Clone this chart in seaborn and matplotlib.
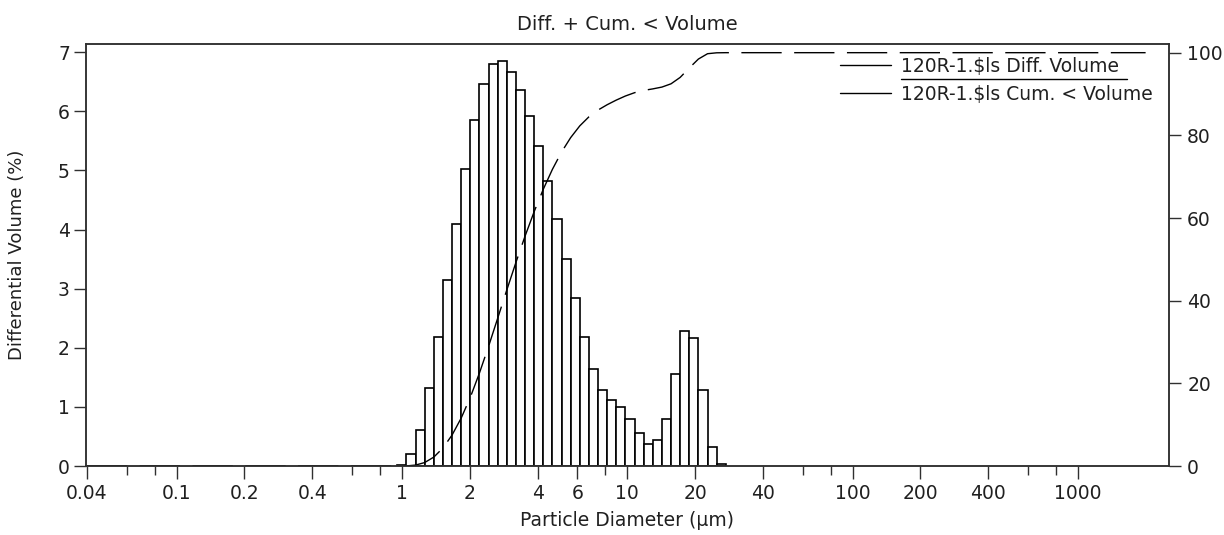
import numpy as np
import pandas as pd
import matplotlib
matplotlib.use("Agg")
import matplotlib.pyplot as plt
import seaborn as sns
from matplotlib.lines import Line2D
from matplotlib.ticker import FixedLocator, FixedFormatter, NullFormatter

# ---- data ----
# channel edges (um) of the size classes carrying volume
bin_edges = [0.953, 1.047, 1.149, 1.261, 1.385, 1.520, 1.669, 1.832, 2.011, 2.207,
             2.423, 2.660, 2.920, 3.206, 3.519, 3.863, 4.240, 4.655, 5.110, 5.610,
             6.158, 6.760, 7.421, 8.147, 8.943, 9.818, 10.78, 11.83, 12.99, 14.26,
             15.65, 17.18, 18.86, 20.70, 22.73, 24.95, 27.39]
# differential volume (%) per channel
diff_volume = [0.02, 0.20, 0.61, 1.32, 2.19, 3.14, 4.10, 5.02, 5.85, 6.46,
               6.81, 6.85, 6.67, 6.36, 5.93, 5.42, 4.82, 4.18, 3.50, 2.84,
               2.19, 1.64, 1.29, 1.12, 0.99, 0.80, 0.55, 0.37, 0.44, 0.79,
               1.55, 2.28, 2.16, 1.29, 0.32, 0.03]
# cumulative < volume (%) at diameters
cum_diameter = [0.04, 0.953, 1.047, 1.149, 1.261, 1.385, 1.520, 1.669, 1.832, 2.011,
                2.207, 2.423, 2.660, 2.920, 3.206, 3.519, 3.863, 4.240, 4.655, 5.110,
                5.610, 6.158, 6.760, 7.421, 8.147, 8.943, 9.818, 10.78, 11.83, 12.99,
                14.26, 15.65, 17.18, 18.86, 20.70, 22.73, 24.95, 27.39, 2000]
cum_volume = [0, 0, 0.02, 0.22, 0.83, 2.15, 4.34, 7.48, 11.58, 16.60,
              22.45, 28.91, 35.72, 42.57, 49.24, 55.60, 61.53, 66.95, 71.77, 75.95,
              79.45, 82.29, 84.48, 86.12, 87.41, 88.53, 89.52, 90.32, 90.87, 91.24,
              91.68, 92.47, 94.02, 96.30, 98.46, 99.75, 99.97, 100, 100]

x_major_ticks = [0.04, 0.1, 0.2, 0.4, 1, 2, 4, 6, 10, 20, 40, 100, 200, 400, 1000]
x_major_labels = ["0.04", "0.1", "0.2", "0.4", "1", "2", "4", "6", "10", "20", "40",
                  "100", "200", "400", "1000"]
x_minor_ticks = [0.06, 0.08, 0.6, 0.8, 8, 60, 80, 600, 800]
left_ticks = [0, 1, 2, 3, 4, 5, 6, 7]
right_ticks = [0, 20, 40, 60, 80, 100]

title = "Diff. + Cum. < Volume"
xlabel = "Particle Diameter (µm)"
ylabel = "Differential Volume (%)"
legend_labels = [r"120R-1.\$ls Diff. Volume", r"120R-1.\$ls Cum. < Volume"]

# ---- style ----
sns.set_style("ticks")
TXT = "#202020"
plt.rcParams["font.family"] = ["DejaVu Sans"]
plt.rcParams["text.color"] = TXT
plt.rcParams["axes.labelcolor"] = TXT
plt.rcParams["xtick.color"] = "#303030"
plt.rcParams["ytick.color"] = "#303030"
plt.rcParams["xtick.labelcolor"] = TXT
plt.rcParams["ytick.labelcolor"] = TXT
plt.rcParams["axes.edgecolor"] = "#303030"

fig = plt.figure(figsize=(12.24, 5.35), dpi=100)
ax = fig.add_axes([86 / 1224, 1 - 466 / 535, (1169 - 86) / 1224, (466 - 44) / 535])

edges = np.array(bin_edges)
centers = np.sqrt(edges[:-1] * edges[1:])
df = pd.DataFrame({"diameter": centers, "volume": diff_volume})

sns.histplot(data=df, x="diameter", weights="volume", bins=list(np.log10(edges)),
             log_scale=True, stat="count", color="white", edgecolor="black",
             linewidth=1.2, alpha=1, ax=ax)

ax.set_xlim(0.0396, 2540)
ax.set_ylim(0, 7.14)

ax2 = ax.twinx()
cdf = pd.DataFrame({"diameter": cum_diameter, "cum": cum_volume})
sns.lineplot(data=cdf, x="diameter", y="cum", ax=ax2, color="black",
             linewidth=1.0, linestyle=(0, (29, 9)), estimator=None)
ax2.set_ylim(0, 102.1)
ax2.set_xlim(0.0396, 2540)

# ticks
ax.xaxis.set_major_locator(FixedLocator(x_major_ticks))
ax.xaxis.set_major_formatter(FixedFormatter(x_major_labels))
ax.xaxis.set_minor_locator(FixedLocator(x_minor_ticks))
ax.xaxis.set_minor_formatter(NullFormatter())
ax.set_yticks(left_ticks)
ax2.set_yticks(right_ticks)

ax.tick_params(axis="x", which="major", length=9.5, width=1.0, direction="out",
               labelsize=13.5, pad=3.5)
ax.tick_params(axis="x", which="minor", length=6.5, width=1.0, direction="out")
ax.tick_params(axis="y", length=8.6, width=1.0, direction="out", labelsize=13.5, pad=3)
ax2.tick_params(axis="y", length=8.6, width=1.0, direction="out", labelsize=13.5, pad=4.5)

for a in (ax, ax2):
    for s in a.spines.values():
        s.set_visible(True)
        s.set_linewidth(1.1)

ax.set_xlabel(xlabel, fontsize=13.5, labelpad=6)
ax.set_ylabel(ylabel, fontsize=13, labelpad=23)
ax2.set_ylabel("")
ax.set_title(title, fontsize=14, pad=10)

handles = [Line2D([], [], color="black", lw=1.0), Line2D([], [], color="black", lw=1.0)]
leg = ax2.legend(handles, legend_labels, loc="upper right", bbox_to_anchor=(0.985, 0.97),
                 frameon=False, fontsize=13.5, handlelength=2.7, handletextpad=0.55,
                 labelspacing=0.5, borderaxespad=0, borderpad=0)

# underline below the first legend entry
fig.canvas.draw()
renderer = fig.canvas.get_renderer()
bb = leg.get_texts()[0].get_window_extent(renderer)
inv = fig.transFigure.inverted()
(x0, y0), (x1, _) = inv.transform([(bb.x0, bb.y0 - 3), (bb.x1 + 8, bb.y0 - 3)])
fig.add_artist(Line2D([x0, x1], [y0, y0], color="black", lw=1.0, transform=fig.transFigure))

fig.savefig("out.png", dpi=100)
